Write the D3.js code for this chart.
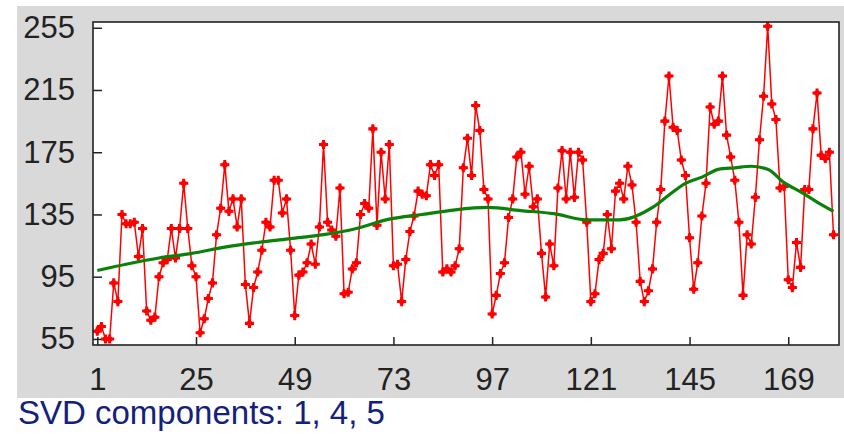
<!DOCTYPE html>
<html>
<head>
<meta charset="utf-8">
<script src="https://cdn.jsdelivr.net/npm/d3@7"></script>
<style>
  body { margin: 0; background: #fff; }
  svg text { font-family: "Liberation Sans", Arial, sans-serif; }
</style>
</head>
<body>
<svg id="chart" width="844" height="434"></svg>
<script>
// observed series, one value per sample 1..180
const samples = [
  60, 63, 55, 55, 91, 79, 135, 129, 129, 130,
  108, 126, 73, 67, 69, 95, 104, 106, 126, 107,
  126, 155, 126, 102, 95, 59, 68, 81, 91, 122,
  139, 167, 137, 145, 127, 145, 90, 65, 88, 98,
  112, 130, 127, 157, 157, 136, 145, 112, 70, 96,
  98, 104, 116, 103, 127, 180, 130, 125, 121, 152,
  84, 85, 100, 104, 135, 142, 139, 190, 128, 175,
  145, 180, 102, 103, 79, 106, 124, 134, 150, 148,
  147, 167, 160, 167, 98, 100, 98, 102, 113, 165,
  184, 160, 205, 189, 151, 145, 71, 83, 97, 104,
  133, 145, 172, 175, 148, 166, 140, 145, 110, 82,
  116, 102, 152, 176, 145, 175, 146, 175, 170, 130,
  79, 84, 106, 110, 135, 113, 150, 155, 145, 166,
  154, 130, 92, 79, 86, 100, 130, 151, 195, 224,
  191, 189, 170, 160, 120, 87, 104, 134, 155, 204,
  193, 195, 224, 186, 172, 157, 130, 83, 122, 116,
  146, 183, 211, 256, 206, 196, 152, 153, 93, 88,
  117, 101, 151, 151, 190, 213, 173, 171, 175, 122
];

// reconstruction from SVD components, read at a few sample positions
const fitIndex = [1, 8, 16, 24, 32, 40, 48, 56, 64, 72, 80, 88, 96, 104, 112,
  120, 128, 136, 140, 144, 148, 152, 156, 160, 164, 168, 172, 176, 180];
const fitValue = [99, 103, 107, 110, 114, 117, 119.5, 122, 126, 132, 135, 138, 139.5, 137.5, 135.5,
  131.5, 131.5, 139.5, 147.5, 155, 159, 164, 165, 166, 164, 155.5, 149.5, 143, 137];

const yTicks = [55, 95, 135, 175, 215, 255];
const xTicks = [1, 25, 49, 73, 97, 121, 145, 169];
const caption = "SVD components: 1, 4, 5";

const frame = {left: 93, top: 22, right: 839, bottom: 345};

const svg = d3.select("#chart");

svg.append("rect")
  .attr("x", 17).attr("y", 6)
  .attr("width", 844 - 17).attr("height", 398 - 6)
  .attr("fill", "#d9d9d9");

svg.append("rect")
  .attr("x", frame.left).attr("y", frame.top)
  .attr("width", frame.right - frame.left)
  .attr("height", frame.bottom - frame.top)
  .attr("fill", "#fff");

const xScale = d3.scaleLinear()
  .domain([1, samples.length])
  .range([frame.left + 4.3, frame.right - 5.5]);

const yScale = d3.scaleLinear()
  .domain([51.1, 258.7])
  .range([frame.bottom, frame.top]);

const yAxis = d3.axisLeft(yScale)
  .tickValues(yTicks)
  .tickSizeInner(-9)
  .tickSizeOuter(0)
  .tickPadding(18);

const xAxis = d3.axisBottom(xScale)
  .tickValues(xTicks)
  .tickSizeInner(-8)
  .tickSizeOuter(0)
  .tickPadding(23);

function styleAxis(g) {
  g.select(".domain").remove();
  g.selectAll(".tick line").attr("stroke", "#222").attr("stroke-width", 1.5);
  g.selectAll(".tick text")
    .attr("fill", "#222")
    .style("font-size", "31px");
}

svg.append("g")
  .attr("transform", "translate(" + frame.left + ",0)")
  .call(yAxis)
  .call(styleAxis);

svg.append("g")
  .attr("transform", "translate(0," + frame.bottom + ")")
  .call(xAxis)
  .call(styleAxis);

const plot = svg.append("g");

const line = d3.line()
  .x((d, i) => xScale(i + 1))
  .y(d => yScale(d));

plot.append("path")
  .datum(samples)
  .attr("fill", "none")
  .attr("stroke", "#ff0000")
  .attr("stroke-width", 1.5)
  .attr("d", line);

const marker = d3.symbol().type(d3.symbolCross).size(46);

plot.selectAll("path.pt")
  .data(samples)
  .enter().append("path")
  .attr("class", "pt")
  .attr("transform", (d, i) => "translate(" + xScale(i + 1) + "," + yScale(d) + ")")
  .attr("d", marker)
  .attr("fill", "#ff0000");

plot.selectAll("circle.pt")
  .data(samples)
  .enter().append("circle")
  .attr("class", "pt")
  .attr("cx", (d, i) => xScale(i + 1))
  .attr("cy", d => yScale(d))
  .attr("r", 2.8)
  .attr("fill", "#ff0000");

const fitLine = d3.line()
  .x((d, i) => xScale(fitIndex[i]))
  .y(d => yScale(d))
  .curve(d3.curveMonotoneX);

plot.append("path")
  .datum(fitValue)
  .attr("fill", "none")
  .attr("stroke", "#0a820a")
  .attr("stroke-width", 3.2)
  .attr("d", fitLine);

svg.append("rect")
  .attr("x", frame.left).attr("y", frame.top)
  .attr("width", frame.right - frame.left)
  .attr("height", frame.bottom - frame.top)
  .attr("fill", "none")
  .attr("stroke", "#222")
  .attr("stroke-width", 1.6);

svg.append("text")
  .attr("x", 18)
  .attr("y", 424)
  .attr("fill", "#14217a")
  .style("font-size", "33px")
  .text(caption);
</script>
</body>
</html>
